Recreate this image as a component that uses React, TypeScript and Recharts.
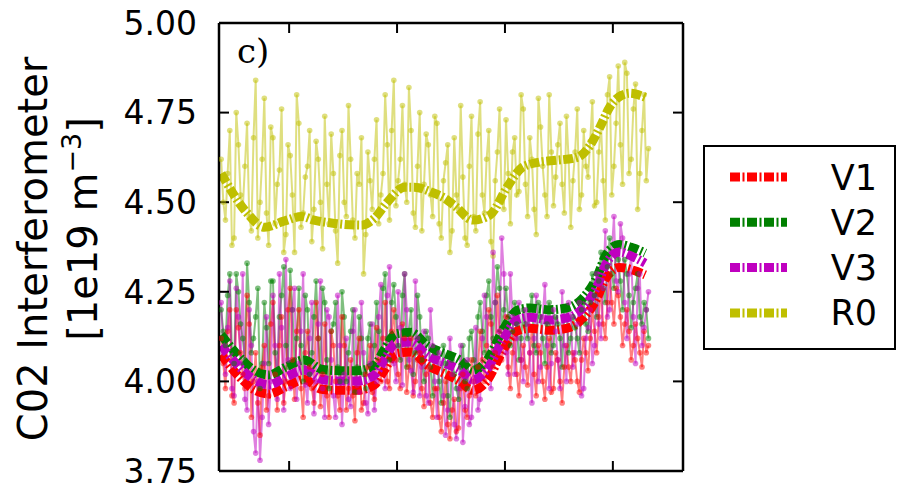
import React from 'react';
import { ComposedChart, Line, XAxis, YAxis, Legend } from 'recharts';

// ---------- data ----------
const seriesNames = ['V1', 'V2', 'V3', 'R0'];
const seriesColors = ['#ff0000', '#008000', '#bf00bf', '#bfbf00'];

const yTicks = [3.75, 4.0, 4.25, 4.5, 4.75, 5.0];
const xTicks = [1, 2, 3, 4];

// sample times of the raw (noisy) interferometer signals
const noiseT = [
  0.37, 0.41, 0.45, 0.49, 0.53, 0.57, 0.61, 0.65, 0.69, 0.73,
  0.77, 0.81, 0.85, 0.89, 0.93, 0.97, 1.01, 1.05, 1.09, 1.13,
  1.17, 1.21, 1.25, 1.29, 1.33, 1.37, 1.41, 1.45, 1.49, 1.53,
  1.57, 1.61, 1.65, 1.69, 1.73, 1.77, 1.81, 1.85, 1.89, 1.93,
  1.97, 2.01, 2.05, 2.09, 2.13, 2.17, 2.21, 2.25, 2.29, 2.33,
  2.37, 2.41, 2.45, 2.49, 2.53, 2.57, 2.61, 2.65, 2.69, 2.73,
  2.77, 2.81, 2.85, 2.89, 2.93, 2.97, 3.01, 3.05, 3.09, 3.13,
  3.17, 3.21, 3.25, 3.29, 3.33, 3.37, 3.41, 3.45, 3.49, 3.53,
  3.57, 3.61, 3.65, 3.69, 3.73, 3.77, 3.81, 3.85, 3.89, 3.93,
  3.97, 4.01, 4.05, 4.09, 4.13, 4.17, 4.21, 4.25, 4.29, 4.33,
];
const noiseT2 = [
  0.39, 0.43, 0.47, 0.51, 0.55, 0.59, 0.63, 0.67, 0.71, 0.75,
  0.79, 0.83, 0.87, 0.91, 0.95, 0.99, 1.03, 1.07, 1.11, 1.15,
  1.19, 1.23, 1.27, 1.31, 1.35, 1.39, 1.43, 1.47, 1.51, 1.55,
  1.59, 1.63, 1.67, 1.71, 1.75, 1.79, 1.83, 1.87, 1.91, 1.95,
  1.99, 2.03, 2.07, 2.11, 2.15, 2.19, 2.23, 2.27, 2.31, 2.35,
  2.39, 2.43, 2.47, 2.51, 2.55, 2.59, 2.63, 2.67, 2.71, 2.75,
  2.79, 2.83, 2.87, 2.91, 2.95, 2.99, 3.03, 3.07, 3.11, 3.15,
  3.19, 3.23, 3.27, 3.31, 3.35, 3.39, 3.43, 3.47, 3.51, 3.55,
  3.59, 3.63, 3.67, 3.71, 3.75, 3.79, 3.83, 3.87, 3.91, 3.95,
  3.99, 4.03, 4.07, 4.11, 4.15, 4.19, 4.23, 4.27, 4.31,
];

const r0Raw = [
  4.62, 4.45, 4.70, 4.40, 4.66, 4.48, 4.72, 4.42, 4.84, 4.50,
  4.79, 4.38, 4.68, 4.55, 4.76, 4.41, 4.63, 4.36, 4.72, 4.47,
  4.60, 4.39, 4.67, 4.50, 4.74, 4.44, 4.58, 4.33, 4.70, 4.46,
  4.62, 4.40, 4.55, 4.30, 4.64, 4.48, 4.73, 4.52, 4.80, 4.45,
  4.84, 4.56, 4.77, 4.50, 4.70, 4.43, 4.75, 4.55, 4.66, 4.46,
  4.72, 4.40, 4.61, 4.36, 4.68, 4.48, 4.57, 4.38, 4.74, 4.42,
  4.78, 4.47, 4.70, 4.35, 4.64, 4.50, 4.73, 4.44, 4.68, 4.53,
  4.76, 4.46, 4.62, 4.41, 4.71, 4.52, 4.80, 4.49, 4.66, 4.55,
  4.74, 4.43, 4.64, 4.48, 4.70, 4.57, 4.78, 4.50, 4.72, 4.45,
  4.85, 4.60, 4.88, 4.55, 4.86, 4.62, 4.83, 4.58, 4.80, 4.65,
];
const r0Raw2 = [
  4.50, 4.58, 4.38, 4.75, 4.52, 4.60, 4.46, 4.68, 4.40, 4.62,
  4.47, 4.71, 4.44, 4.59, 4.36, 4.66, 4.52, 4.80, 4.43, 4.57,
  4.70, 4.48, 4.62, 4.37, 4.55, 4.69, 4.42, 4.63, 4.50, 4.77,
  4.45, 4.58, 4.68, 4.41, 4.56, 4.62, 4.44, 4.58, 4.66, 4.70,
  4.49, 4.62, 4.55, 4.82, 4.47, 4.60, 4.42, 4.69, 4.52, 4.74,
  4.44, 4.56, 4.66, 4.42, 4.52, 4.77, 4.40, 4.60, 4.46, 4.69,
  4.52, 4.62, 4.39, 4.56, 4.76, 4.48, 4.58, 4.64, 4.52, 4.80,
  4.55, 4.68, 4.48, 4.79, 4.60, 4.46, 4.64, 4.57, 4.72, 4.47,
  4.62, 4.56, 4.76, 4.52, 4.60, 4.67, 4.49, 4.64, 4.56, 4.80,
  4.52, 4.72, 4.66, 4.89, 4.58, 4.76, 4.48, 4.70, 4.56,
];

const v1Raw = [
  4.12, 3.98, 4.20, 3.94, 4.15, 4.02, 4.24, 3.90, 4.08, 3.85,
  4.10, 3.96, 4.22, 3.92, 4.18, 4.00, 4.26, 3.95, 4.20, 3.90,
  4.14, 3.98, 4.22, 3.93, 4.16, 3.90, 4.10, 3.96, 4.18, 3.92,
  4.06, 3.89, 4.12, 3.94, 4.04, 3.97, 4.15, 4.00, 4.22, 3.98,
  4.20, 4.02, 4.16, 3.97, 4.12, 4.00, 4.08, 3.93, 4.04, 3.90,
  3.98, 3.86, 4.00, 3.84, 3.95, 3.87, 4.02, 3.90, 4.06, 3.96,
  4.14, 4.00, 4.20, 4.04, 4.24, 4.06, 4.18, 3.98, 4.12, 3.96,
  4.10, 3.99, 4.15, 3.96, 4.08, 3.95, 4.12, 3.98, 4.06, 3.94,
  4.10, 4.00, 4.06, 3.97, 4.12, 4.03, 4.20, 4.08, 4.26, 4.12,
  4.30, 4.16, 4.24, 4.10, 4.20, 4.06, 4.16, 4.08, 4.14, 4.10,
];
const v1Raw2 = [
  4.05, 4.14, 3.96, 4.20, 4.08, 3.98, 4.16, 4.00, 3.94, 4.04,
  3.92, 4.16, 4.02, 4.10, 3.94, 4.20, 4.06, 4.14, 3.98, 4.08,
  4.04, 3.94, 4.12, 4.02, 3.96, 4.14, 4.00, 3.92, 4.10, 3.98,
  3.96, 4.08, 3.92, 4.02, 4.10, 3.95, 4.06, 4.12, 4.00, 4.14,
  4.06, 3.98, 4.12, 4.04, 3.96, 4.06, 3.98, 4.02, 3.94, 3.98,
  3.90, 3.94, 3.88, 3.92, 3.86, 3.98, 3.92, 3.96, 4.00, 4.04,
  4.06, 4.10, 4.16, 4.08, 4.14, 4.10, 4.04, 4.08, 4.02, 4.06,
  4.04, 4.08, 4.02, 4.10, 4.00, 4.04, 3.97, 4.08, 4.00, 4.04,
  4.04, 4.08, 4.00, 4.06, 4.08, 4.12, 4.14, 4.18, 4.16, 4.22,
  4.22, 4.26, 4.18, 4.16, 4.14, 4.10, 4.12, 4.04, 4.08,
];

const v2Raw = [
  4.20, 4.10, 4.30, 4.05, 4.25, 4.12, 4.33, 4.08, 4.18, 3.98,
  4.22, 4.05, 4.28, 4.02, 4.24, 4.10, 4.31, 4.06, 4.26, 4.00,
  4.20, 4.08, 4.28, 4.03, 4.22, 3.98, 4.16, 4.04, 4.25, 4.00,
  4.14, 3.97, 4.18, 4.02, 4.12, 4.05, 4.22, 4.08, 4.30, 4.06,
  4.27, 4.10, 4.24, 4.04, 4.20, 4.08, 4.18, 4.00, 4.12, 3.96,
  4.08, 3.94, 4.05, 3.90, 4.02, 3.95, 4.10, 3.98, 4.14, 4.04,
  4.22, 4.08, 4.28, 4.12, 4.32, 4.15, 4.26, 4.10, 4.22, 4.06,
  4.20, 4.12, 4.24, 4.08, 4.18, 4.05, 4.22, 4.10, 4.16, 4.04,
  4.20, 4.12, 4.15, 4.08, 4.22, 4.14, 4.30, 4.18, 4.36, 4.22,
  4.40, 4.26, 4.34, 4.20, 4.30, 4.15, 4.26, 4.18, 4.22, 4.12,
];
const v2Raw2 = [
  4.14, 4.24, 4.08, 4.30, 4.16, 4.06, 4.22, 4.12, 4.26, 4.05,
  4.15, 4.28, 4.08, 4.18, 4.32, 4.04, 4.20, 4.12, 4.10, 4.24,
  4.02, 4.18, 4.12, 4.26, 4.06, 4.14, 4.22, 4.00, 4.18, 4.08,
  4.20, 4.04, 4.12, 3.98, 4.16, 4.10, 4.14, 4.26, 4.12, 4.22,
  4.18, 4.06, 4.30, 4.14, 4.02, 4.24, 4.06, 4.14, 4.04, 4.08,
  4.00, 4.10, 3.96, 4.06, 3.98, 4.04, 4.00, 4.12, 4.06, 4.18,
  4.14, 4.24, 4.18, 4.22, 4.26, 4.20, 4.18, 4.14, 4.16, 4.12,
  4.16, 4.20, 4.10, 4.22, 4.12, 4.16, 4.08, 4.18, 4.12, 4.20,
  4.08, 4.18, 4.12, 4.20, 4.16, 4.22, 4.24, 4.28, 4.26, 4.32,
  4.30, 4.38, 4.28, 4.34, 4.24, 4.22, 4.30, 4.16, 4.20,
];

const v3Raw = [
  4.22, 4.02, 4.28, 3.96, 4.18, 4.30, 3.92, 4.10, 3.80, 3.78,
  4.05, 3.88, 4.24, 3.95, 4.15, 4.34, 3.98, 4.26, 4.05, 4.30,
  3.94, 4.22, 4.00, 4.28, 3.90, 4.18, 3.96, 4.24, 3.88, 4.12,
  3.93, 4.20, 3.97, 4.08, 3.91, 4.16, 4.00, 4.27, 3.98, 4.32,
  4.05, 4.25, 3.99, 4.20, 4.03, 4.28, 3.96, 4.14, 3.94, 4.10,
  3.90, 4.05, 3.85, 4.12, 3.88, 3.98, 3.83, 4.06, 3.90, 4.15,
  3.95, 4.24, 4.05, 4.36, 4.10, 4.40, 4.08, 4.30, 4.02, 4.22,
  4.00, 4.16, 3.94, 4.24, 4.04, 4.27, 3.98, 4.20, 4.06, 4.25,
  4.00, 4.18, 4.08, 4.22, 3.98, 4.15, 4.05, 4.30, 4.12, 4.42,
  4.20, 4.46, 4.25, 4.40, 4.12, 4.35, 4.05, 4.30, 4.15, 4.25,
];
const v3Raw2 = [
  4.08, 4.15, 3.98, 4.26, 4.05, 3.95, 4.20, 3.86, 4.00, 3.90,
  4.18, 4.00, 4.10, 4.30, 3.92, 4.06, 4.20, 3.95, 4.14, 3.99,
  4.12, 3.91, 4.16, 3.98, 4.20, 4.06, 3.90, 4.10, 4.02, 3.95,
  4.14, 3.99, 4.22, 3.94, 4.05, 3.92, 4.18, 4.06, 4.24, 4.10,
  4.00, 4.15, 4.30, 4.06, 3.97, 4.12, 4.04, 3.96, 4.20, 4.00,
  4.08, 3.96, 3.92, 4.02, 3.84, 4.10, 3.93, 3.88, 4.00, 3.92,
  4.12, 4.18, 3.98, 4.22, 4.14, 4.30, 4.02, 4.18, 4.12, 4.06,
  4.20, 4.08, 4.12, 4.00, 4.18, 4.10, 4.05, 4.14, 3.98, 4.10,
  4.22, 4.04, 4.16, 3.96, 4.12, 4.20, 4.10, 4.16, 4.26, 4.18,
  4.36, 4.28, 4.44, 4.22, 4.30, 4.18, 4.26, 4.10, 4.20,
];

// smoothed traces
const r0SmoothT = [
  0.37, 0.61, 0.77, 0.95, 1.12, 1.23, 1.39, 1.67, 1.79, 1.91,
  2.07, 2.16, 2.32, 2.44, 2.55, 2.70, 2.86, 3.02, 3.16, 3.32,
  3.48, 3.67, 3.79, 3.88, 3.97, 4.08, 4.16, 4.27, 4.32,
];
const r0Smooth = [
  4.58, 4.47, 4.43, 4.447, 4.46, 4.45, 4.442, 4.436, 4.455, 4.50,
  4.542, 4.542, 4.528, 4.511, 4.486, 4.45, 4.464, 4.542, 4.597, 4.612,
  4.617, 4.625, 4.659, 4.709, 4.765, 4.798, 4.804, 4.796, 4.79,
];

const vSmoothT = [
  0.37, 0.54, 0.68, 0.81, 0.97, 1.14, 1.30, 1.46, 1.63, 1.79,
  1.88, 1.99, 2.13, 2.28, 2.44, 2.58, 2.70, 2.83, 2.98, 3.11,
  3.23, 3.41, 3.57, 3.72, 3.85, 3.94, 4.06, 4.19, 4.30,
];
const v1Smooth = [
  4.075, 4.012, 3.976, 3.965, 3.985, 4.005, 3.978, 3.975, 3.975, 3.99,
  4.03, 4.078, 4.082, 4.045, 4.022, 4.00, 3.975, 4.00, 4.085, 4.14,
  4.148, 4.143, 4.148, 4.175, 4.23, 4.29, 4.318, 4.31, 4.297,
];
const v2Smooth = [
  4.13, 4.068, 4.03, 4.018, 4.04, 4.06, 4.034, 4.03, 4.03, 4.045,
  4.088, 4.133, 4.137, 4.10, 4.078, 4.06, 4.03, 4.058, 4.142, 4.198,
  4.205, 4.20, 4.205, 4.232, 4.29, 4.355, 4.382, 4.372, 4.358,
];
const v3Smooth = [
  4.101, 4.04, 4.004, 3.99, 4.012, 4.032, 4.006, 4.001, 4.001, 4.018,
  4.06, 4.107, 4.11, 4.073, 4.051, 4.032, 4.004, 4.032, 4.115, 4.171,
  4.179, 4.171, 4.177, 4.204, 4.263, 4.33, 4.361, 4.347, 4.33,
];

// ---------- build rows ----------
const rows = (ts: number[], vs: number[]) => ts.map((t, i) => ({ t, v: vs[i] }));
const merged = (a: number[], b: number[]) =>
  [...rows(noiseT, a), ...rows(noiseT2, b)].sort((p, q) => p.t - q.t);

const rawSeries = [
  { name: 'R0', color: seriesColors[3], data: merged(r0Raw, r0Raw2) },
  { name: 'V2', color: seriesColors[1], data: merged(v2Raw, v2Raw2) },
  { name: 'V1', color: seriesColors[0], data: merged(v1Raw, v1Raw2) },
  { name: 'V3', color: seriesColors[2], data: merged(v3Raw, v3Raw2) },
];
const smoothSeries = [
  { name: 'R0', color: seriesColors[3], data: rows(r0SmoothT, r0Smooth) },
  { name: 'V1', color: seriesColors[0], data: rows(vSmoothT, v1Smooth) },
  { name: 'V2', color: seriesColors[1], data: rows(vSmoothT, v2Smooth) },
  { name: 'V3', color: seriesColors[2], data: rows(vSmoothT, v3Smooth) },
];

const DASH = '10 2.5 2 2.5';
const SANS = 'DejaVu Sans';

const renderYLabel = () => (
  <g>
    <text
      x={47}
      y={249}
      transform="rotate(-90, 47, 249)"
      textAnchor="middle"
      fontFamily={SANS}
      fontSize={40}
      fill="#000"
    >
      C02 Interferometer
    </text>
    <text
      x={97}
      y={229}
      transform="rotate(-90, 97, 229)"
      textAnchor="middle"
      fontFamily={SANS}
      fontSize={40}
      fill="#000"
    >
      [1e19 m
      <tspan fontSize={27} dy={-16}>−3</tspan>
      <tspan dy={16}>]</tspan>
    </text>
  </g>
);

const renderPanelLabel = () => (
  <text x={237} y={63} fontFamily="DejaVu Serif" fontSize={34} fill="#000">
    c)
  </text>
);

const emptyTick = () => <g />;

const renderLegend = () => (
  <svg width={193} height={205} style={{ display: 'block' }}>
    <rect x={1} y={1} width={191} height={203} fill="#fff" stroke="#000" strokeWidth={2} />
    {seriesNames.map((n, i) => {
      const y = 32 + i * 45.3;
      return (
        <g key={n}>
          <line x1={27} x2={84} y1={y} y2={y} stroke={seriesColors[i]} strokeWidth={9} strokeDasharray={DASH} />
          <text x={174} y={y + 12.5} textAnchor="end" fontFamily={SANS} fontSize={35} fill="#000">
            {n}
          </text>
        </g>
      );
    })}
  </svg>
);

const axisLine = { stroke: '#000', strokeWidth: 2.5 };
const tickLine = { stroke: '#000', strokeWidth: 2 };

export default function App() {
  return (
    <div style={{ position: 'absolute', left: 0, top: 0, background: '#fff' }}>
      <ComposedChart width={898} height={490} margin={{ top: 22, right: 214, bottom: 18, left: 0 }}>
        <XAxis
          xAxisId="b"
          type="number"
          dataKey="t"
          domain={[0.35, 4.65]}
          allowDataOverflow
          ticks={xTicks}
          orientation="bottom"
          height={1}
          tick={emptyTick}
          tickSize={-10}
          axisLine={axisLine}
          tickLine={tickLine}
        />
        <XAxis
          xAxisId="t"
          type="number"
          dataKey="t"
          domain={[0.35, 4.65]}
          allowDataOverflow
          ticks={xTicks}
          orientation="top"
          height={1}
          tick={emptyTick}
          tickSize={-10}
          axisLine={axisLine}
          tickLine={tickLine}
          label={renderPanelLabel}
        />
        <YAxis
          yAxisId="l"
          type="number"
          domain={[3.75, 5.0]}
          allowDataOverflow
          ticks={yTicks}
          width={219}
          tickSize={-10}
          tickMargin={32}
          tickFormatter={(v: number) => v.toFixed(2)}
          tick={{ fontFamily: SANS, fontSize: 33, fill: '#000' }}
          axisLine={axisLine}
          tickLine={tickLine}
          label={renderYLabel}
        />
        <YAxis
          yAxisId="r"
          orientation="right"
          type="number"
          domain={[3.75, 5.0]}
          allowDataOverflow
          ticks={yTicks}
          width={1}
          tick={emptyTick}
          tickSize={-10}
          axisLine={axisLine}
          tickLine={tickLine}
        />
        {rawSeries.map((s) => (
          <Line
            key={'raw' + s.name}
            xAxisId="b"
            yAxisId="l"
            data={s.data}
            dataKey="v"
            type="linear"
            stroke={s.color}
            strokeOpacity={0.5}
            strokeWidth={2}
            dot={{ r: 2.8, fill: s.color, fillOpacity: 0.5, stroke: 'none' }}
            legendType="none"
            isAnimationActive={false}
          />
        ))}
        {smoothSeries.map((s) => (
          <Line
            key={'smooth' + s.name}
            xAxisId="b"
            yAxisId="l"
            data={s.data}
            dataKey="v"
            type="monotone"
            stroke={s.color}
            strokeWidth={9}
            strokeDasharray={DASH}
            dot={false}
            activeDot={false}
            legendType="none"
            isAnimationActive={false}
          />
        ))}
        <Legend
          layout="vertical"
          align="center"
          verticalAlign="middle"
          content={renderLegend}
          wrapperStyle={{ position: 'absolute', left: 703, top: 145, width: 193, height: 205 }}
        />
      </ComposedChart>
    </div>
  );
}
